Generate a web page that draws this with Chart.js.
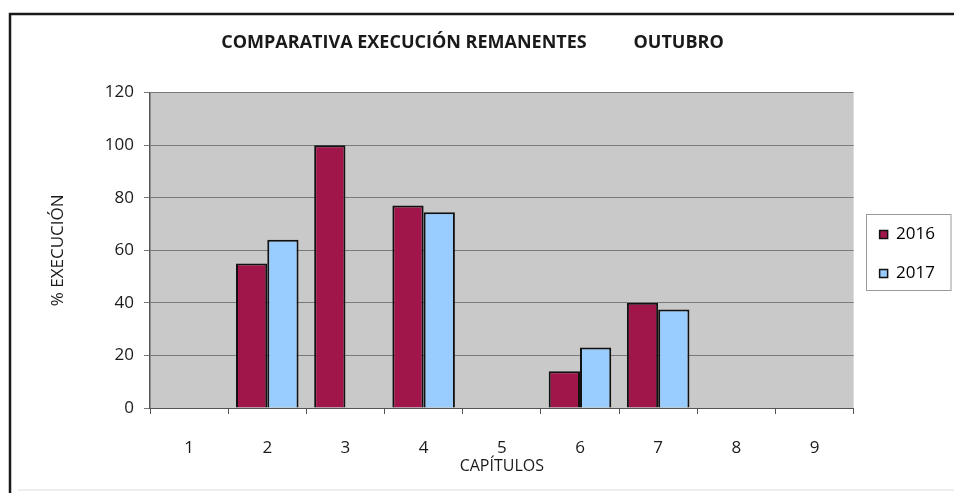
<!DOCTYPE html>
<html>
<head>
<meta charset="utf-8">
<script src="https://cdn.jsdelivr.net/npm/chart.js@4/dist/chart.umd.min.js"></script>
<style>
  html, body { margin: 0; padding: 0; background: #ffffff; }
  #wrap { width: 954px; height: 493px; }
</style>
</head>
<body>
<div id="wrap"><canvas id="c" width="954" height="493"></canvas></div>
<script>
const categories = ['1', '2', '3', '4', '5', '6', '7', '8', '9'];
const values2016 = [null, 55, 100, 77, null, 14, 40, null, null];
const values2017 = [null, 64, null, 74.5, null, 23, 37.5, null, null];
const yTicks = [0, 20, 40, 60, 80, 100, 120];
const seriesNames = ['2016', '2017'];
const titleText = 'COMPARATIVA EXECUCIÓN REMANENTES          OUTUBRO';
const yTitle = '% EXECUCIÓN';
const xTitle = 'CAPÍTULOS';

const FONT = "'Open Sans', 'Liberation Sans', sans-serif";

const frame = {
  id: 'frame',
  afterLayout(chart) {
    const t = chart.titleBlock;
    if (t) { t.left -= 22; t.right -= 22; }
    const lg = chart.legend;
    if (lg) {
      lg.left += 4; lg.right += 4;
      lg.top += 8; lg.bottom += 8;
    }
  },
  beforeDraw(chart) {
    const ctx = chart.ctx, a = chart.chartArea;
    ctx.save();
    ctx.fillStyle = '#ffffff';
    ctx.fillRect(0, 0, chart.width, chart.height);
    ctx.fillStyle = '#c9c9c9';
    ctx.fillRect(a.left, a.top, a.right - a.left, a.bottom - a.top);
    ctx.strokeStyle = '#1a1a1a';
    ctx.lineWidth = 2.5;
    ctx.beginPath();
    ctx.moveTo(10, 493);
    ctx.lineTo(10, 14);
    ctx.lineTo(954, 14);
    ctx.stroke();
    ctx.strokeStyle = '#e4e8ec';
    ctx.lineWidth = 1.5;
    ctx.beginPath();
    ctx.moveTo(18, 490);
    ctx.lineTo(954, 490);
    ctx.stroke();
    ctx.restore();
  },
  afterDraw(chart) {
    const lg = chart.legend;
    if (!lg || !lg.legendHitBoxes || !lg.legendHitBoxes.length) return;
    const ctx = chart.ctx;
    const hb = lg.legendHitBoxes;
    let l = Infinity, t = Infinity, b = -Infinity;
    hb.forEach(h => { l = Math.min(l, h.left); t = Math.min(t, h.top); b = Math.max(b, h.top + h.height); });
    const left = Math.round(l - 14) + 0.5, top = Math.round(t - 12.5) + 0.5, bottom = Math.round(b + 8) + 0.5;
    ctx.save();
    ctx.strokeStyle = '#9a9a9a';
    ctx.lineWidth = 1;
    ctx.strokeRect(left, top, 951 - left, bottom - top);
    ctx.restore();
  }
};

new Chart(document.getElementById('c'), {
  type: 'bar',
  data: {
    labels: categories,
    datasets: [
      { label: seriesNames[0], data: values2016, backgroundColor: '#a0164a', borderColor: '#111111', borderWidth: 2, borderSkipped: 'bottom' },
      { label: seriesNames[1], data: values2017, backgroundColor: '#99ccff', borderColor: '#111111', borderWidth: 2, borderSkipped: 'bottom' }
    ]
  },
  options: {
    responsive: false,
    animation: false,
    devicePixelRatio: 1,
    datasets: { bar: { categoryPercentage: 0.8, barPercentage: 1.0 } },
    layout: { padding: { top: 14, left: 48, right: 13, bottom: 15 } },
    plugins: {
      title: {
        display: true,
        text: titleText,
        color: '#1a1a1a',
        font: { family: FONT, size: 18, weight: 'bold' },
        padding: { top: 18, bottom: 39 }
      },
      legend: {
        display: true,
        position: 'right',
        align: 'center',
        labels: {
          color: '#1a1a1a',
          font: { family: FONT, size: 17 },
          boxWidth: 8,
          boxHeight: 8,
          padding: 22,
          generateLabels(chart) {
            return chart.data.datasets.map((ds, i) => ({
              text: ds.label, fillStyle: ds.backgroundColor, strokeStyle: '#111111', lineWidth: 1.5, datasetIndex: i, hidden: false
            }));
          }
        }
      },
      tooltip: { enabled: false }
    },
    scales: {
      x: {
        grid: { display: true, offset: true, drawOnChartArea: false, drawTicks: true, tickLength: 6, color: '#555555' },
        border: { display: true, color: '#555555', width: 1 },
        ticks: { color: '#1a1a1a', font: { family: FONT, size: 17 }, padding: 24, maxRotation: 0 },
        title: { display: true, text: xTitle, color: '#1a1a1a', font: { family: FONT, size: 16 }, padding: { top: 0, bottom: 2 } },
        afterFit(s) { s.height = 70; }
      },
      y: {
        min: 0, max: 120,
        afterBuildTicks(s) { s.ticks = yTicks.map(v => ({ value: v })); },
        grid: { display: true, color: '#7a7a7a', lineWidth: 1, drawTicks: true, tickLength: 6 },
        border: { display: true, color: '#555555', width: 1.5 },
        ticks: { color: '#1a1a1a', font: { family: FONT, size: 17 }, padding: 10 },
        title: { display: true, text: yTitle, color: '#1a1a1a', font: { family: FONT, size: 17 }, padding: { top: 0, bottom: 0 } },
        afterFit(s) { s.width = 102; }
      }
    }
  },
  plugins: [frame]
});
</script>
</body>
</html>
